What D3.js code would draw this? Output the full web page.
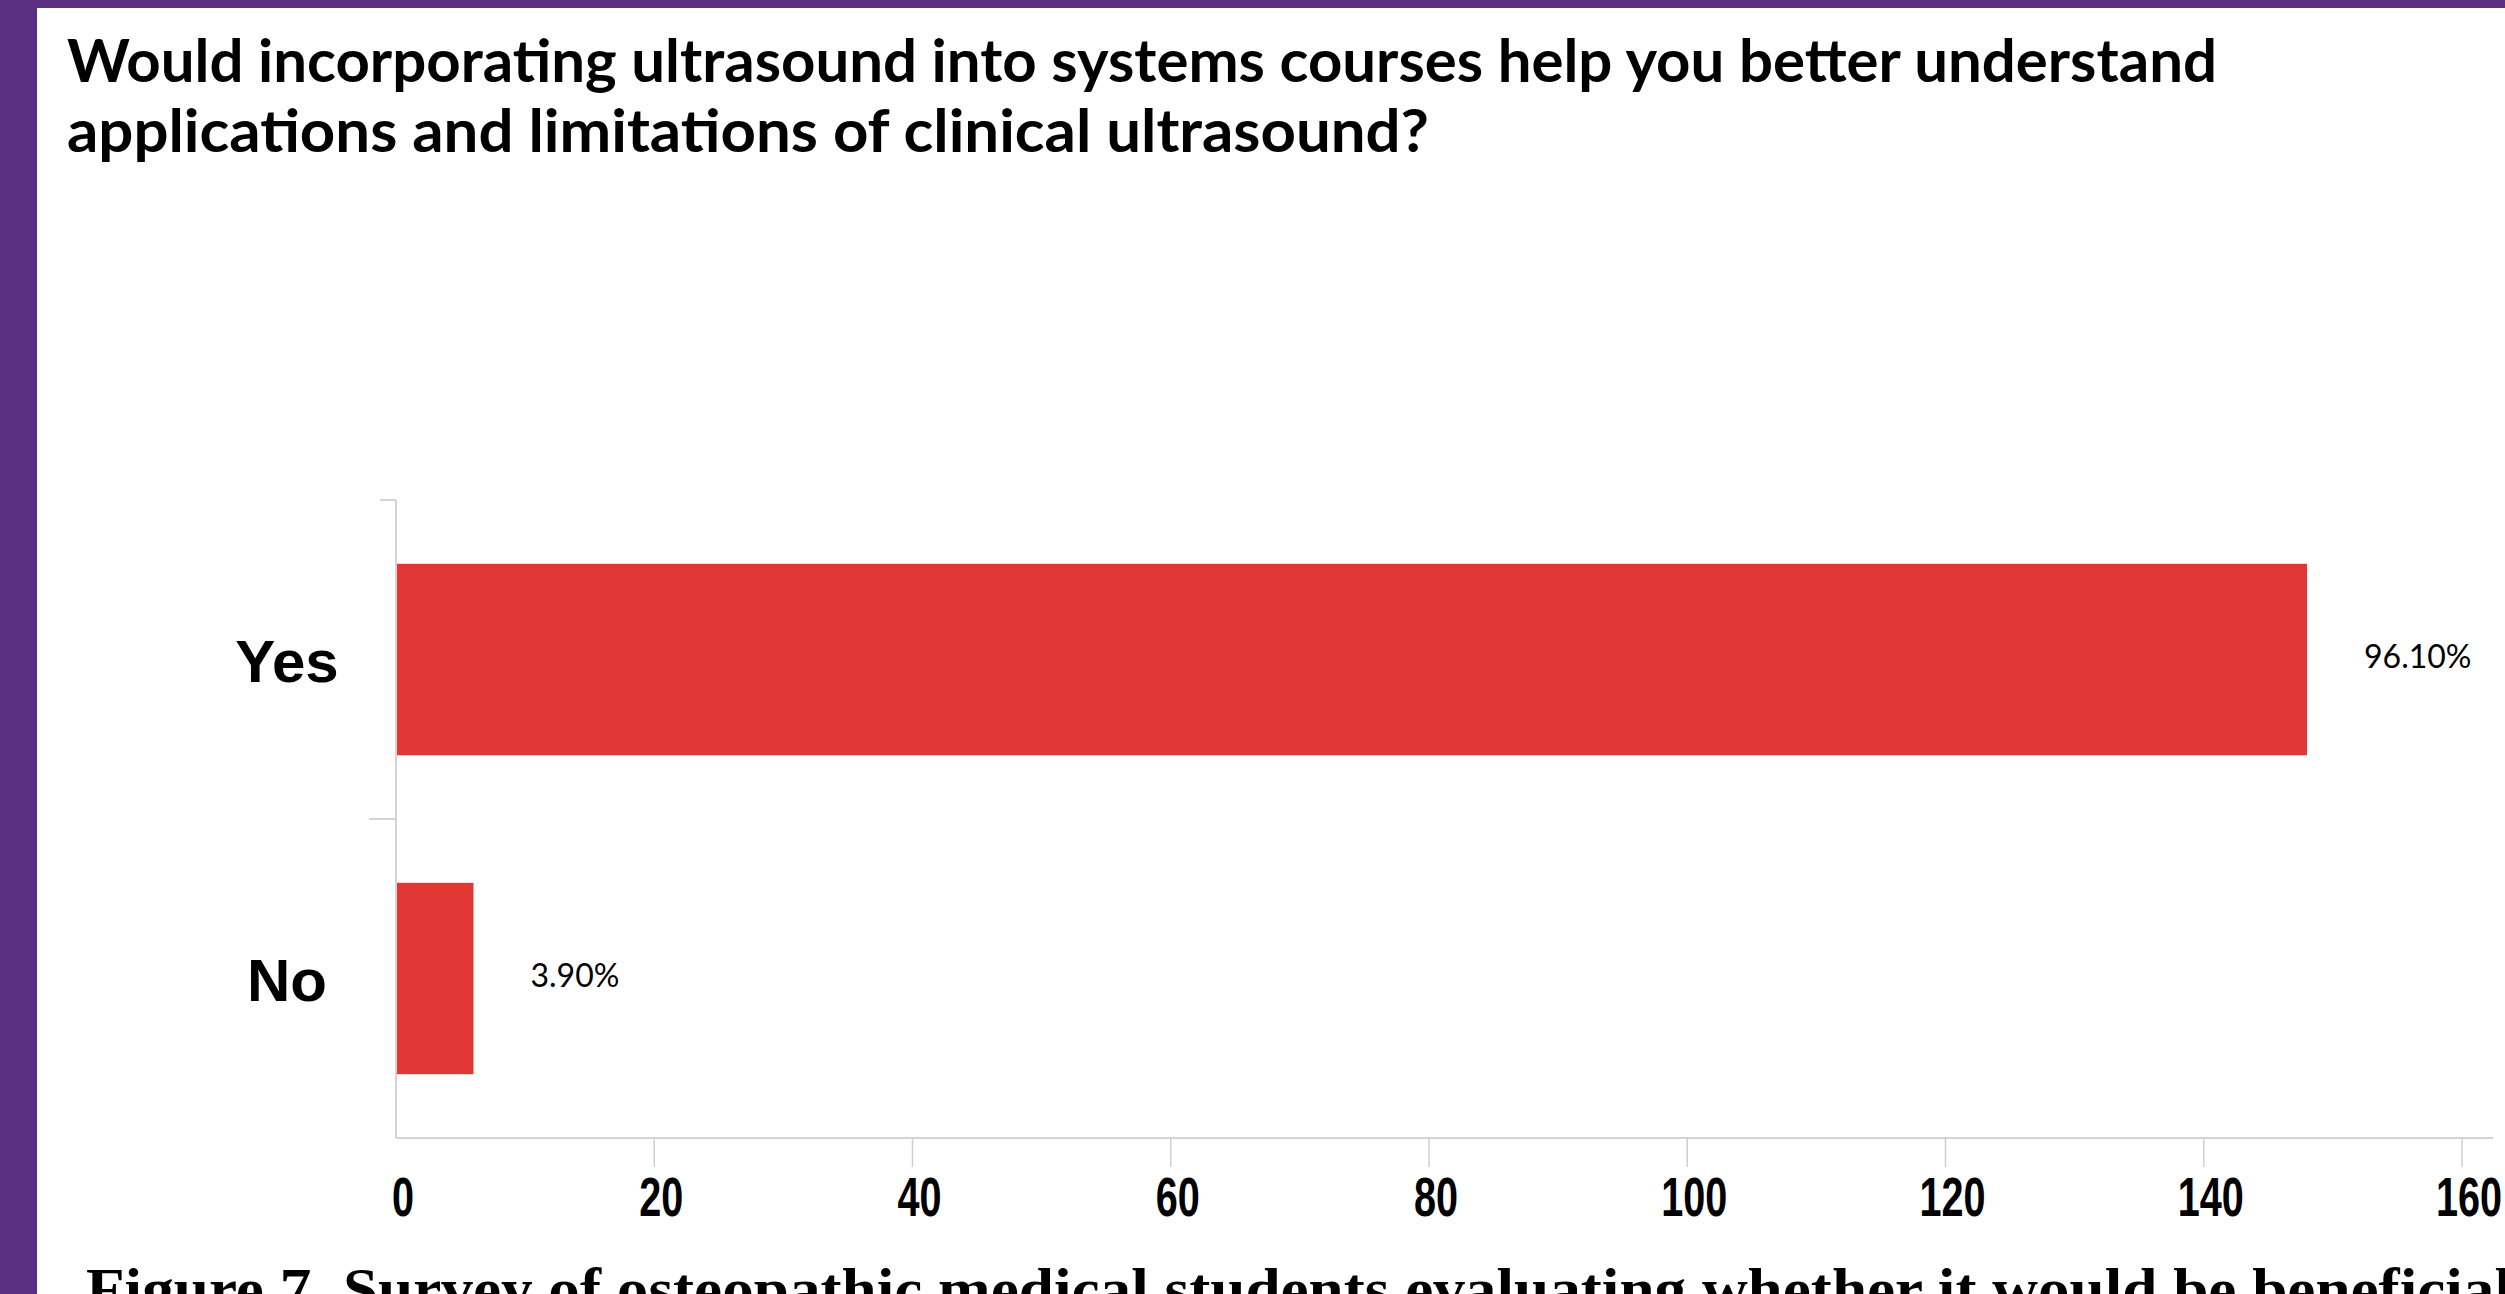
<!DOCTYPE html>
<html>
<head>
<meta charset="utf-8">
<script src="https://cdn.jsdelivr.net/npm/d3@7"></script>
<style>
  html, body { margin: 0; padding: 0; background: #fff; overflow: hidden; }
</style>
</head>
<body>
<svg id="chart" width="2505" height="1294"></svg>
<script>
// Survey responses
const categories = ["Yes", "No"];
const counts = [148, 6];
const percentLabels = ["96.10%", "3.90%"];
const xTicks = [0, 20, 40, 60, 80, 100, 120, 140, 160];
const titleLines = [
  "Would incorporating ultrasound into systems courses help you better understand",
  "applications and limitations of clinical ultrasound?"
];
const captionText = "Figure 7. Survey of osteopathic medical students evaluating whether it would be beneficial";

const W = 2505, H = 1294;
const svg = d3.select("#chart");

// Slide background with purple frame on the left and top
svg.append("rect").attr("width", W).attr("height", H).attr("fill", "#5a2e81");
svg.append("rect").attr("x", 37).attr("y", 8).attr("width", W - 37).attr("height", H - 8).attr("fill", "#ffffff");

// Question title
const titleWidths = [2150, 1362];
svg.append("g").selectAll("text").data(titleLines).join("text")
  .attr("x", 67)
  .attr("y", (d, i) => 82 + i * 70)
  .attr("font-family", "Lato, 'Open Sans', sans-serif")
  .attr("font-weight", 700)
  .attr("font-size", 60)
  .attr("fill", "#000")
  .attr("textLength", (d, i) => titleWidths[i])
  .attr("lengthAdjust", "spacingAndGlyphs")
  .text(d => d);

// Scales
const x = d3.scaleLinear().domain([0, 160]).range([396, 2462]);
const y = d3.scaleBand().domain(categories).range([500, 1138])
  .paddingInner(0.4).paddingOuter(0.2);

const rows = categories.map((c, i) => ({ cat: c, value: counts[i], label: percentLabels[i] }));

const axisColor = "#d3d3d3";

// Bars
svg.append("g").selectAll("rect").data(rows).join("rect")
  .attr("x", x(0))
  .attr("y", d => y(d.cat))
  .attr("width", d => x(d.value) - x(0))
  .attr("height", y.bandwidth())
  .attr("fill", "#e13735");

// Y axis line and category separators
const yAxis = svg.append("g");
yAxis.append("line")
  .attr("x1", x(0)).attr("x2", x(0))
  .attr("y1", y.range()[0]).attr("y2", y.range()[1])
  .attr("stroke", axisColor).attr("stroke-width", 2);
const bounds = [y.range()[0], y.range()[0] + y.step()];
yAxis.selectAll("line.tick").data(bounds).join("line")
  .attr("class", "tick")
  .attr("x1", (d, i) => x(0) - (i === 0 ? 16 : 27)).attr("x2", x(0))
  .attr("y1", d => d).attr("y2", d => d)
  .attr("stroke", axisColor).attr("stroke-width", 2);

// Category labels
svg.append("g").selectAll("text").data(rows).join("text")
  .attr("x", 287)
  .attr("y", d => y(d.cat) + y.bandwidth() / 2 + 22)
  .attr("text-anchor", "middle")
  .attr("font-family", "'Liberation Sans', Arial, sans-serif")
  .attr("font-weight", 700)
  .attr("font-size", 60)
  .attr("fill", "#000")
  .text(d => d.cat);

// X axis
const xAxisY = y.range()[1];
const xAxis = svg.append("g");
xAxis.append("line")
  .attr("x1", x(0)).attr("x2", 2493)
  .attr("y1", xAxisY).attr("y2", xAxisY)
  .attr("stroke", axisColor).attr("stroke-width", 2);
xAxis.selectAll("line.tick").data(xTicks.filter(t => t > 0)).join("line")
  .attr("class", "tick")
  .attr("x1", d => x(d)).attr("x2", d => x(d))
  .attr("y1", xAxisY).attr("y2", xAxisY + 29)
  .attr("stroke", "#cfcfcf").attr("stroke-width", 1.5);
xAxis.selectAll("text").data(xTicks).join("text")
  .attr("transform", d => `translate(${x(d) + 7},1216) scale(0.72,1)`)
  .attr("text-anchor", "middle")
  .attr("font-family", "'Liberation Sans', Arial, sans-serif")
  .attr("font-weight", 700)
  .attr("font-size", 55)
  .attr("fill", "#000")
  .text(d => d);

// Value labels
svg.append("g").selectAll("text").data(rows).join("text")
  .attr("x", d => x(d.value) + 57)
  .attr("y", d => y(d.cat) + y.bandwidth() / 2 + 8)
  .attr("font-family", "Lato, 'Open Sans', sans-serif")
  .attr("font-size", 32)
  .attr("fill", "#000")
  .text(d => d.label);

// Figure caption
svg.append("text")
  .attr("x", 86)
  .attr("y", 1309)
  .attr("font-family", "'Liberation Serif', 'Times New Roman', serif")
  .attr("font-weight", 700)
  .attr("font-size", 60)
  .attr("fill", "#000")
  .attr("textLength", 2426)
  .attr("lengthAdjust", "spacingAndGlyphs")
  .text(captionText);
</script>
</body>
</html>
